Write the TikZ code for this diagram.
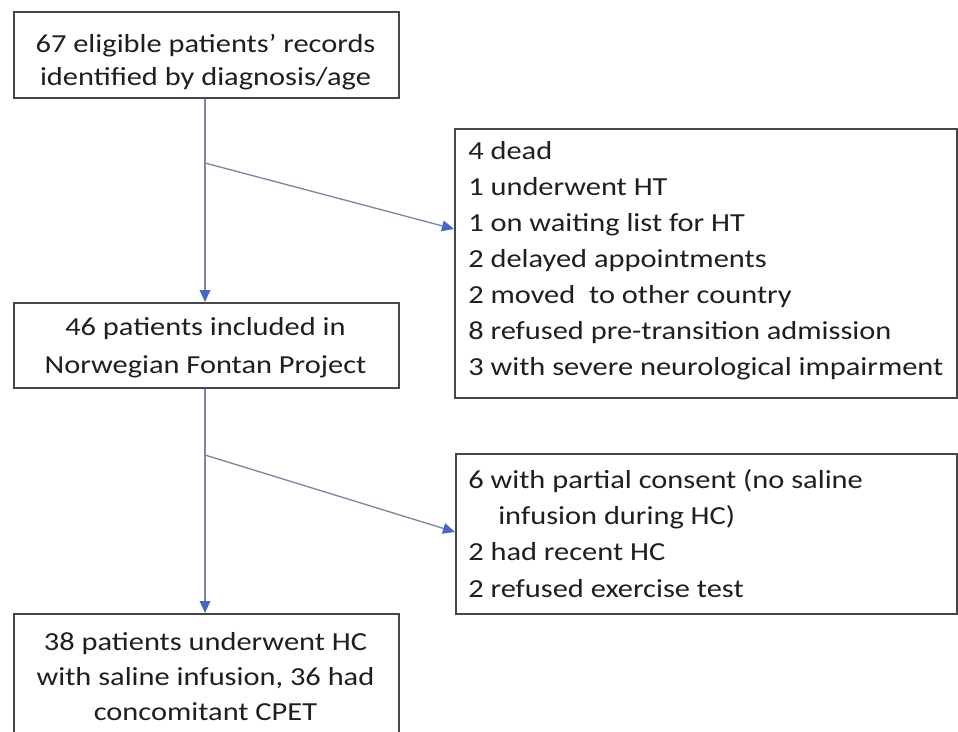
\documentclass[tikz,border=0pt]{standalone}
\usepackage{fontspec}
\setmainfont{Carlito}[FakeStretch=1.17]
\usetikzlibrary{arrows.meta,calc}
\definecolor{boxline}{RGB}{70,70,70}
\definecolor{conn}{RGB}{125,135,160}
\definecolor{tipblue}{RGB}{68,104,196}
\tikzset{
  boxnode/.style={draw=boxline, line width=1.3pt, rectangle, inner sep=0pt},
  txt/.style={anchor=base, inner sep=0pt, font=\fontsize{19.5}{23}\selectfont, text=black!88},
  ltxt/.style={anchor=base west, inner sep=0pt, font=\fontsize{19.5}{23}\selectfont, text=black!88},
  conline/.style={draw=conn, line width=1pt, -{Triangle[length=9pt,width=8pt,fill=tipblue,color=tipblue]}},
}
\begin{document}
\begin{tikzpicture}[x=0.75pt,y=-0.75pt]
\clip (0,0) rectangle (958,732);
\fill[white] (0,0) rectangle (958,732);
% boxes
\node[boxnode, minimum width=385*0.75pt, minimum height=86*0.75pt, anchor=north west] (b1) at (13,11) {};
\node[boxnode, minimum width=385*0.75pt, minimum height=85*0.75pt, anchor=north west] (b2) at (13,302) {};
\node[boxnode, minimum width=385*0.75pt, minimum height=160*0.75pt, anchor=north west] (b3) at (13,613) {};
\node[boxnode, minimum width=502*0.75pt, minimum height=269*0.75pt, anchor=north west] (r1) at (454,128) {};
\node[boxnode, minimum width=501*0.75pt, minimum height=160*0.75pt, anchor=north west] (r2) at (455,453) {};
% box texts
\node[txt] (t1a) at (205.5,52) {67 eligible patients’ records};
\node[txt] (t1b) at (205.5,85) {identified by diagnosis/age};
\node[txt] (t2a) at (205.5,335) {46 patients included in};
\node[txt] (t2b) at (205.5,373) {Norwegian Fontan Project};
\node[txt] (t3a) at (205.5,650) {38 patients underwent HC};
\node[txt] (t3b) at (205.5,685) {with saline infusion, 36 had};
\node[txt] (t3c) at (205.5,720) {concomitant CPET};
\node[ltxt] (r1a) at (468,159) {4 dead};
\node[ltxt] (r1b) at (468,195) {1 underwent HT};
\node[ltxt] (r1c) at (468,231) {1 on waiting list for HT};
\node[ltxt] (r1d) at (468,267) {2 delayed appointments};
\node[ltxt] (r1e) at (468,303) {2 moved\ \ to other country};
\node[ltxt] (r1f) at (468,339) {8 refused pre-transition admission};
\node[ltxt] (r1g) at (468,375) {3 with severe neurological impairment};
\node[ltxt] (r2a) at (468,488) {6 with partial consent (no saline};
\node[ltxt] (r2b) at (498,524) {infusion during HC)};
\node[ltxt] (r2c) at (468,560) {2 had recent HC};
\node[ltxt] (r2d) at (468,597) {2 refused exercise test};
% connectors
\coordinate (s1) at (205,163);
\coordinate (e1) at (r1.west |- 0,229);
\coordinate (s2) at (205,455);
\coordinate (e2) at (r2.west |- 0,532);
\draw[conline] (b1.south -| 205,0) -- (b2.north -| 205,0);
\draw[conline] (b2.south -| 205,0) -- (b3.north -| 205,0);
\draw[conline] (s1) -- (e1);
\draw[conline] (s2) -- (e2);
\end{tikzpicture}
\end{document}
